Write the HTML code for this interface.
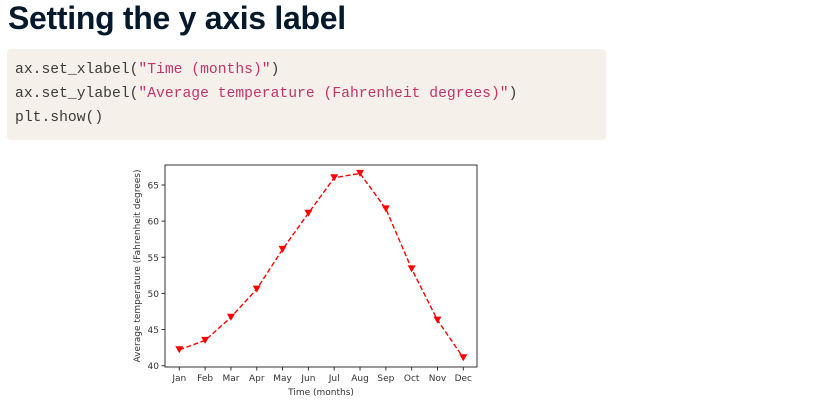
<!DOCTYPE html>
<html><head><meta charset="utf-8"><style>
body{margin:0;width:832px;height:403px;background:#fff;overflow:hidden;position:relative;font-family:"Liberation Sans",sans-serif}
#title{position:absolute;left:8px;top:0px;font-size:32px;font-weight:bold;color:#05192d;letter-spacing:-0.3px}
#code{position:absolute;left:7px;top:49px;width:599px;height:91px;background:#f5f1ea;border-radius:4px}
.ln{position:absolute;left:8px;font-family:"Liberation Mono",monospace;font-size:14.7px;color:#3a3a3a;white-space:pre}
.s{color:#c2336b}
</style></head><body>
<div id="title">Setting the y axis label</div>
<div id="code">
<div class="ln" style="top:13px">ax.set_xlabel(<span class="s">"Time (months)"</span>)</div>
<div class="ln" style="top:37px">ax.set_ylabel(<span class="s">"Average temperature (Fahrenheit degrees)"</span>)</div>
<div class="ln" style="top:61px">plt.show()</div>
</div>
<svg id="chart" width="832" height="403" style="position:absolute;left:0;top:0"></svg>
<script>
const months=["Jan","Feb","Mar","Apr","May","Jun","Jul","Aug","Sep","Oct","Nov","Dec"];
const temps=[42.2,43.5,46.7,50.6,56.1,61.1,66.0,66.6,61.7,53.4,46.3,41.1];
const yTicks=[40,45,50,55,60,65];
const svg=document.getElementById('chart');
const NS='http://www.w3.org/2000/svg';
const L=165,R=477,T=165,B=367;
const xs=i=>179.3+i*(463.3-179.3)/11;
const ys=v=>365.7-(v-40)*(180.7/25);
function mk(t,a){const e=document.createElementNS(NS,t);for(const k in a)e.setAttribute(k,a[k]);svg.appendChild(e);return e;}
const frame=mk('rect',{x:L,y:T,width:R-L,height:B-T,fill:'none',stroke:'#333','stroke-width':1});


yTicks.forEach(v=>{
  const y=ys(v);
  const tk=mk('line',{x1:L-3.5,x2:L,y1:y,y2:y,stroke:'#333'});
  
  
  const t=mk('text',{x:L-6,y:y+3.5,'text-anchor':'end','font-size':9,fill:'#333','font-family':'DejaVu Sans, sans-serif'});
  t.textContent=v;
  
  
});
months.forEach((m,i)=>{
  const x=xs(i);
  const tk=mk('line',{x1:x,x2:x,y1:B,y2:B+3.5,stroke:'#333'});
  
  
  const t=mk('text',{x:x,y:B+14,'text-anchor':'middle','font-size':9,fill:'#333','font-family':'DejaVu Sans, sans-serif'});
  t.textContent=m;
  
  
});
const xl=mk('text',{x:(L+R)/2,y:395,'text-anchor':'middle','font-size':9,fill:'#333','font-family':'DejaVu Sans, sans-serif'});
xl.textContent='Time (months)';


const yl=mk('text',{x:0,y:0,'text-anchor':'middle','font-size':9,fill:'#333','font-family':'DejaVu Sans, sans-serif',transform:`translate(140,${(T+B)/2}) rotate(-90)`});
yl.textContent='Average temperature (Fahrenheit degrees)';


const line=mk('polyline',{points:temps.map((v,i)=>xs(i)+','+ys(v)).join(' '),fill:'none',stroke:'#ff0000','stroke-width':1.4,'stroke-dasharray':'5,2.5'});


temps.forEach((v,i)=>{
  const x=xs(i),y=ys(v);
  const p=mk('polygon',{points:`${x-4},${y-3.5} ${x+4},${y-3.5} ${x},${y+3.5}`,fill:'#ff0000'});
  
  
});
</script>
</body></html>
